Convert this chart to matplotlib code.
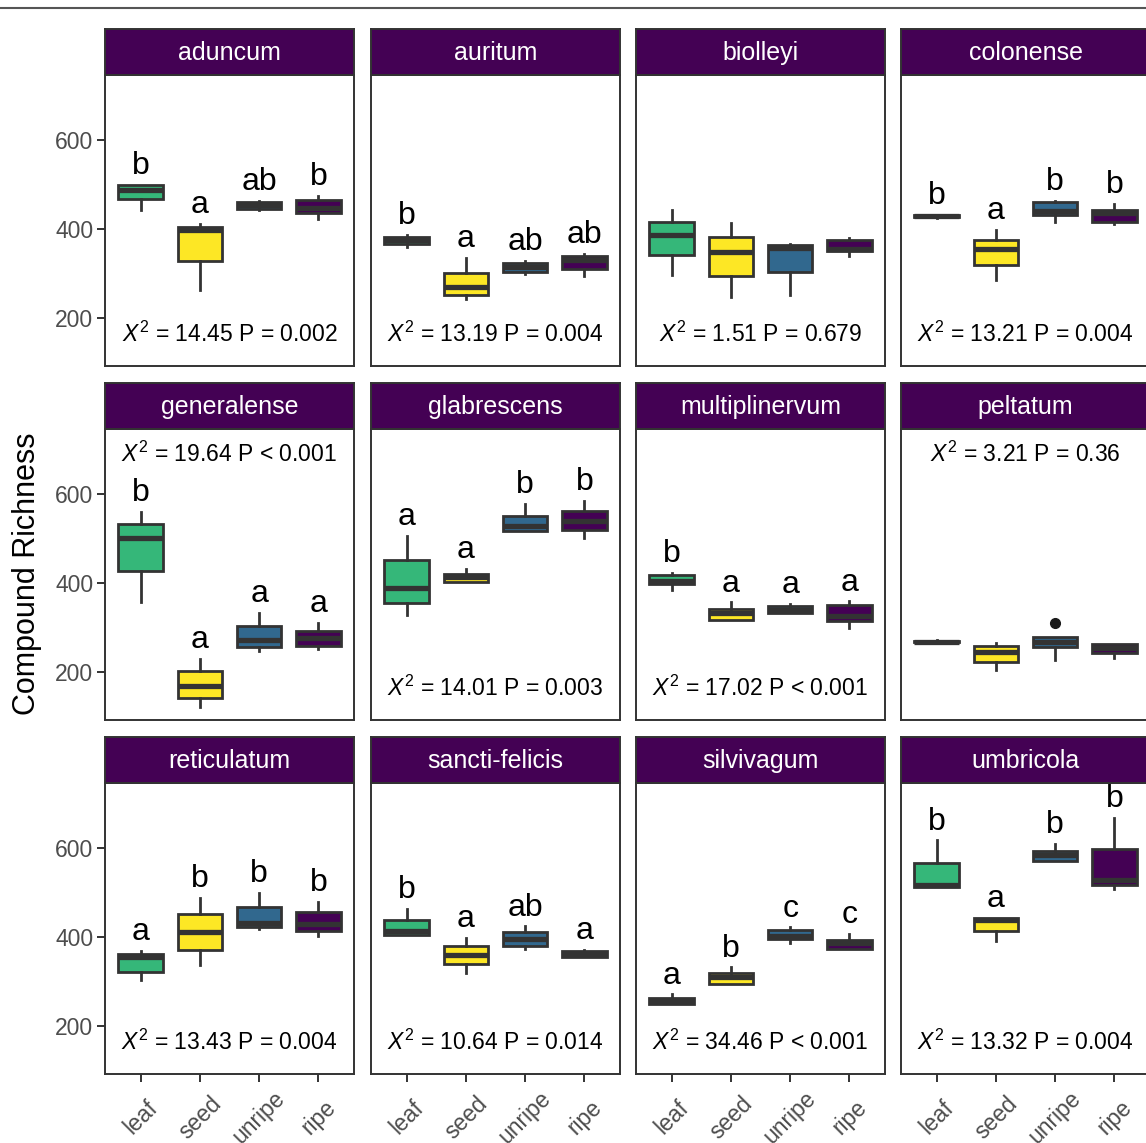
import numpy as np
import matplotlib.pyplot as plt
from matplotlib.lines import Line2D

plt.rcParams['font.family'] = ['Liberation Sans', 'DejaVu Sans']
plt.rcParams['mathtext.fontset'] = 'custom'
plt.rcParams['mathtext.rm'] = 'Liberation Sans'
plt.rcParams['mathtext.it'] = 'Liberation Sans:italic'

# 数据：每个物种四种组织（leaf, seed, unripe, ripe）的箱线图统计量
species = ['aduncum', 'auritum', 'biolleyi', 'colonense',
           'generalense', 'glabrescens', 'multiplinervum', 'peltatum',
           'reticulatum', 'sancti-felicis', 'silvivagum', 'umbricola']
tissues = ['leaf', 'seed', 'unripe', 'ripe']
tissue_colors = ['#35B779', '#FDE725', '#31688E', '#440154']

whislo = [[443, 263, 441, 422], [360, 243, 298, 293], [297, 247, 252, 338], [425, 285, 416, 411],
          [357, 122, 246, 252], [327, 402, 515, 500], [383, 317, 333, 298], [265, 205, 227, 232],
          [303, 337, 417, 402], [404, 319, 373, 354], [249, 294, 386, 373], [511, 390, 571, 508]]
q1 = [[466, 328, 445, 435], [366, 252, 304, 310], [340, 295, 303, 349], [426, 318, 430, 415],
      [427, 142, 256, 259], [354, 402, 515, 518], [397, 317, 333, 315], [266, 223, 255, 243],
      [322, 371, 421, 412], [404, 339, 380, 354], [249, 294, 396, 373], [511, 412, 571, 517]]
med = [[488, 398, 454, 447], [374, 269, 314, 330], [387, 347, 357, 355], [428, 354, 439, 435],
       [500, 169, 272, 276], [388, 413, 527, 538], [405, 332, 339, 326], [268, 245, 267, 253],
       [355, 410, 431, 429], [413, 358, 396, 361], [256, 310, 402, 387], [517, 438, 583, 528]]
q3 = [[499, 405, 461, 465], [381, 300, 323, 338], [416, 381, 363, 374], [430, 375, 459, 441],
      [532, 201, 303, 291], [450, 420, 549, 560], [418, 341, 347, 349], [270, 259, 278, 263],
      [361, 450, 467, 456], [438, 380, 411, 367], [262, 319, 416, 393], [566, 443, 593, 598]]
whishi = [[499, 411, 463, 474], [386, 334, 328, 343], [443, 414, 366, 379], [431, 398, 463, 456],
          [559, 229, 333, 310], [506, 431, 577, 583], [422, 356, 353, 358], [271, 265, 278, 263],
          [369, 488, 498, 479], [462, 397, 423, 371], [271, 331, 421, 406], [616, 443, 608, 667]]
fliers = {'peltatum': [[], [], [310], []]}

letters = [['b', 'a', 'ab', 'b'], ['b', 'a', 'ab', 'ab'], None, ['b', 'a', 'b', 'b'],
           ['b', 'a', 'a', 'a'], ['a', 'a', 'b', 'b'], ['b', 'a', 'a', 'a'], None,
           ['a', 'b', 'b', 'b'], ['b', 'a', 'ab', 'a'], ['a', 'b', 'c', 'c'], ['b', 'a', 'b', 'b']]
chi2 = ['14.45', '13.19', '1.51', '13.21', '19.64', '14.01', '17.02', '3.21',
        '13.43', '10.64', '34.46', '13.32']
pval = ['= 0.002', '= 0.004', '= 0.679', '= 0.004', '< 0.001', '= 0.003', '< 0.001', '= 0.36',
        '= 0.004', '= 0.014', '< 0.001', '= 0.004']
stat_on_top = ['generalense', 'peltatum']

W, H = 1146, 1143
fig = plt.figure(figsize=(W / 100, H / 100), dpi=100)

col_left = [105, 371, 636, 901]
row_top = [29, 383, 737]
pw, sh, ph = 249, 46, 291
dark = '#333333'

for i, sp in enumerate(species):
    r, c = i // 4, i % 4
    l, t = col_left[c], row_top[r]
    ax = fig.add_axes([l / W, 1 - (t + sh + ph) / H, pw / W, ph / H])
    sax = fig.add_axes([l / W, 1 - (t + sh) / H, pw / W, sh / H])

    stats = []
    for j in range(4):
        fl = fliers.get(sp, [[], [], [], []])[j]
        stats.append(dict(whislo=whislo[i][j], q1=q1[i][j], med=med[i][j],
                          q3=q3[i][j], whishi=whishi[i][j], fliers=fl))
    bp = ax.bxp(stats, positions=[1, 2, 3, 4], widths=0.75, patch_artist=True,
                showcaps=False,
                boxprops=dict(edgecolor=dark, linewidth=2.0),
                medianprops=dict(color=dark, linewidth=3.8, solid_capstyle='butt'),
                whiskerprops=dict(color=dark, linewidth=2.0),
                flierprops=dict(marker='o', markerfacecolor='#1a1a1a',
                                markeredgecolor='#1a1a1a', markersize=7))
    for patch, col in zip(bp['boxes'], tissue_colors):
        patch.set_facecolor(col)

    if letters[i] is not None:
        for j, lab in enumerate(letters[i]):
            ax.text(j + 1, whishi[i][j] + 24, lab, ha='center', va='baseline',
                    fontsize=23, color='black')

    sy = 688 if sp in stat_on_top else 163
    ax.text(2.5, sy, r'$X^2$' + ' = ' + chi2[i] + ' P ' + pval[i],
            ha='center', va='center', fontsize=16.5, color='black')

    ax.set_xlim(0.4, 4.6)
    ax.set_ylim(92, 745)
    for s in ax.spines.values():
        s.set_color(dark)
        s.set_linewidth(1.4)

    ax.set_yticks([200, 400, 600])
    if c == 0:
        ax.tick_params(axis='y', length=5.5, width=1.4, color=dark,
                       labelsize=16.5, labelcolor='#4D4D4D', pad=3)
    else:
        ax.tick_params(axis='y', left=False, labelleft=False)

    ax.set_xticks([1, 2, 3, 4])
    if r == 2:
        ax.set_xticklabels(tissues)
        ax.tick_params(axis='x', length=5.5, width=1.4, color=dark,
                       labelsize=16.5, labelcolor='#4D4D4D', pad=26)
        for lab in ax.get_xticklabels():
            lab.set_rotation(45)
            lab.set_ha('center')
            lab.set_va('center')
            lab.set_rotation_mode('anchor')
    else:
        ax.tick_params(axis='x', bottom=False, labelbottom=False)

    sax.set_facecolor('#440154')
    sax.set_xticks([])
    sax.set_yticks([])
    for s in sax.spines.values():
        s.set_color(dark)
        s.set_linewidth(1.4)
    sax.text(0.5, 0.47, sp, ha='center', va='center', fontsize=18,
             color='white', transform=sax.transAxes)

fig.text(27 / W, 1 - 574 / H, 'Compound Richness', rotation=90,
         ha='center', va='center', fontsize=22, color='black')

fig.add_artist(Line2D([0, 1], [1 - 8 / H, 1 - 8 / H], color='#555555',
                      linewidth=1.5, transform=fig.transFigure))

fig.savefig('out.png', dpi=100)
